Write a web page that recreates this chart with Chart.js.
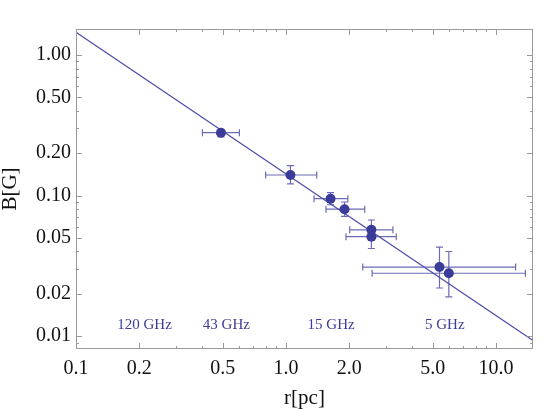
<!DOCTYPE html>
<html>
<head>
<meta charset="utf-8">
<script src="https://cdn.jsdelivr.net/npm/chart.js@4"></script>
<style>
    html, body { margin: 0; padding: 0; background: #fff; }
</style>
</head>
<body>
<canvas id="chart" width="545" height="409"></canvas>
<script>
// measured points: r [pc] and B [G]
const rValues = [0.49, 1.05, 1.63, 1.90, 2.55, 2.55, 5.38, 5.96];
const bValues = [0.280, 0.140, 0.095, 0.080, 0.057, 0.051, 0.031, 0.028];
const rLow  = [0.40, 0.80, 1.36, 1.55, 2.01, 1.93, 2.32, 2.57];
const rHigh = [0.60, 1.40, 1.97, 2.37, 3.23, 3.35, 12.4, 13.8];
const bLow  = [0.261, 0.121, 0.086, 0.071, 0.048, 0.042, 0.022, 0.019];
const bHigh = [0.295, 0.163, 0.105, 0.090, 0.067, 0.060, 0.043, 0.040];

// fitted power law, end points
const fitR = [0.1, 15];
const fitB = [1.45, 0.0093];

const xTicks = [0.1, 0.2, 0.5, 1, 2, 5, 10];
const yTicks = [0.01, 0.02, 0.05, 0.1, 0.2, 0.5, 1];

// frequency band labels, anchored in data units
const bandLabels = ['120 GHz', '43 GHz', '15 GHz', '5 GHz'];
const bandR = [0.212, 0.52, 1.64, 5.7];
const bandB = [0.0119, 0.0119, 0.0119, 0.0119];

const SERIF = "'Liberation Serif', 'Times New Roman', serif";
const BLUE = '#3b3b98';

function minorValues(min, max) {
    const out = [];
    for (let e = -3; e <= 2; e++) {
        for (let m = 1; m <= 9; m++) {
            const v = m * Math.pow(10, e);
            if (v >= min && v <= max) out.push(v);
        }
    }
    return out;
}

// frame with inward ticks on all four sides
const frameTicks = {
    id: 'frameTicks',
    afterDraw(chart) {
        const ctx = chart.ctx;
        const a = chart.chartArea;
        const xs = chart.scales.x;
        const ys = chart.scales.y;
        ctx.save();
        ctx.strokeStyle = '#9a9a9a';
        ctx.lineWidth = 1;
        ctx.strokeRect(a.left + 0.5, a.top + 0.5, a.right - a.left - 1, a.bottom - a.top - 1);
        ctx.beginPath();
        minorValues(xs.min, xs.max).forEach(v => {
            const len = xTicks.includes(v) ? 6 : 3;
            const px = Math.round(xs.getPixelForValue(v)) + 0.5;
            ctx.moveTo(px, a.bottom); ctx.lineTo(px, a.bottom - len);
            ctx.moveTo(px, a.top); ctx.lineTo(px, a.top + len);
        });
        minorValues(ys.min, ys.max).forEach(v => {
            const major = yTicks.some(t => Math.abs(t - v) < 1e-9);
            const len = major ? 6 : 3;
            const py = Math.round(ys.getPixelForValue(v)) + 0.5;
            ctx.moveTo(a.left, py); ctx.lineTo(a.left + len, py);
            ctx.moveTo(a.right, py); ctx.lineTo(a.right - len, py);
        });
        ctx.stroke();
        ctx.restore();
    }
};

// horizontal and vertical error bars with caps
const errorBars = {
    id: 'errorBars',
    beforeDatasetsDraw(chart) {
        const ctx = chart.ctx;
        const xs = chart.scales.x;
        const ys = chart.scales.y;
        const cap = 3.5;
        ctx.save();
        ctx.strokeStyle = 'rgba(70, 70, 165, 0.8)';
        ctx.lineWidth = 1.2;
        ctx.beginPath();
        rValues.forEach((r, i) => {
            const px = xs.getPixelForValue(r);
            const py = ys.getPixelForValue(bValues[i]);
            const x0 = xs.getPixelForValue(rLow[i]);
            const x1 = xs.getPixelForValue(rHigh[i]);
            const y0 = ys.getPixelForValue(bLow[i]);
            const y1 = ys.getPixelForValue(bHigh[i]);
            ctx.moveTo(x0, py); ctx.lineTo(x1, py);
            ctx.moveTo(x0, py - cap); ctx.lineTo(x0, py + cap);
            ctx.moveTo(x1, py - cap); ctx.lineTo(x1, py + cap);
            ctx.moveTo(px, y0); ctx.lineTo(px, y1);
            ctx.moveTo(px - cap, y0); ctx.lineTo(px + cap, y0);
            ctx.moveTo(px - cap, y1); ctx.lineTo(px + cap, y1);
        });
        ctx.stroke();
        ctx.restore();
    },
    afterDatasetsDraw(chart) {
        const ctx = chart.ctx;
        const xs = chart.scales.x;
        const ys = chart.scales.y;
        ctx.save();
        ctx.fillStyle = BLUE;
        ctx.font = '15px ' + SERIF;
        ctx.textAlign = 'center';
        ctx.textBaseline = 'middle';
        bandLabels.forEach((t, i) => {
            ctx.fillText(t, xs.getPixelForValue(bandR[i]), ys.getPixelForValue(bandB[i]));
        });
        ctx.restore();
    }
};

const ctx = document.getElementById('chart').getContext('2d');

new Chart(ctx, {
    data: {
        datasets: [
            {
                type: 'line',
                data: fitR.map((r, i) => ({ x: r, y: fitB[i] })),
                borderColor: '#4d4dab',
                borderWidth: 1.2,
                pointRadius: 0,
                fill: false,
                order: 2
            },
            {
                type: 'scatter',
                data: rValues.map((r, i) => ({ x: r, y: bValues[i] })),
                backgroundColor: BLUE,
                borderWidth: 0,
                pointRadius: 5,
                order: 1
            }
        ]
    },
    options: {
        responsive: false,
        animation: false,
        devicePixelRatio: 1,
        layout: { padding: { top: 29, right: 12, left: 0, bottom: 0 } },
        plugins: { legend: { display: false }, tooltip: { enabled: false } },
        scales: {
            x: {
                type: 'logarithmic',
                min: 0.1,
                max: 15,
                afterBuildTicks: s => { s.ticks = xTicks.map(v => ({ value: v })); },
                afterFit: s => { s.height = 60; },
                grid: { display: false, drawTicks: false },
                border: { display: false },
                ticks: {
                    autoSkip: false,
                    maxRotation: 0,
                    padding: 8,
                    color: '#111',
                    font: { family: SERIF, size: 20 },
                    callback: v => Number(v).toFixed(1)
                },
                title: {
                    display: true,
                    text: 'r[pc]',
                    color: '#111',
                    font: { family: SERIF, size: 21, lineHeight: 1 },
                    padding: { top: 0, bottom: 0 }
                }
            },
            y: {
                type: 'logarithmic',
                min: 0.0081,
                max: 1.53,
                afterBuildTicks: s => { s.ticks = yTicks.map(v => ({ value: v })); },
                afterFit: s => { s.width = 76; },
                grid: { display: false, drawTicks: false },
                border: { display: false },
                ticks: {
                    autoSkip: false,
                    padding: 5,
                    color: '#111',
                    font: { family: SERIF, size: 20 },
                    callback: v => Number(v).toFixed(2)
                },
                title: {
                    display: true,
                    text: 'B[G]',
                    color: '#111',
                    font: { family: SERIF, size: 21, lineHeight: 1 },
                    padding: { top: 0, bottom: 0 }
                }
            }
        }
    },
    plugins: [frameTicks, errorBars]
});
</script>
</body>
</html>
